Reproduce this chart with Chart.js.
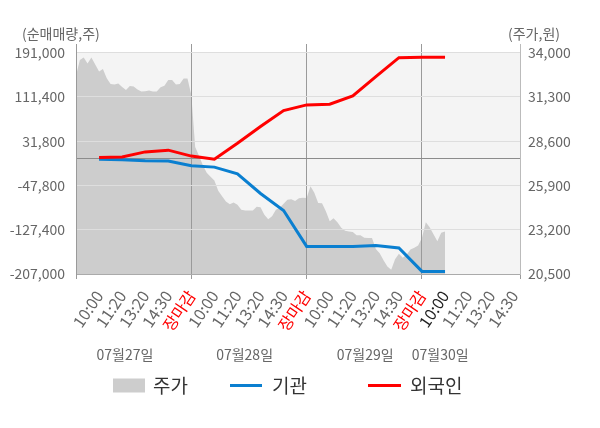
<!DOCTYPE html>
<html><head><meta charset="utf-8">
<script src="https://cdn.jsdelivr.net/npm/chart.js@4.4.0/dist/chart.umd.min.js"></script>
<style>html,body{margin:0;padding:0;background:#fff;}canvas{display:block;}</style>
</head><body>
<canvas id="c" width="600" height="428"></canvas>
<script>
// ---- data ----
const timeLabels = ['10:00','11:20','13:20','14:30','장마감',
                    '10:00','11:20','13:20','14:30','장마감',
                    '10:00','11:20','13:20','14:30','장마감',
                    '10:00','11:20','13:20','14:30'];
const dateLabels = ['07월27일','07월28일','07월29일','07월30일'];
const dateAt = [2.12, 7.31, 12.54, 15.79];          // slot position of each date caption
const leftTicks = [191000, 111400, 31800, -47800, -127400, -207000];
const rightTicks = [34000, 31300, 28600, 25900, 23200, 20500];
const pricePerSlot = 6;                              // price samples per label slot
const price = [
  32600,33550,33710,33340,33700,33280,32850,33010,32440,32090,32060,32120,31910,31720,31970,
  31940,31760,31640,31650,31700,31640,31640,31890,31980,32340,32340,32060,32090,32430,32430,
  31420,28250,27710,27130,26670,26430,26210,25580,25240,24920,24750,24860,24720,24420,24380,
  24380,24380,24600,24570,24110,23840,24020,24420,24540,24780,25030,25060,24950,25120,25150,
  25130,25850,25450,24830,24810,24330,23720,23900,23660,23320,23140,23100,23060,22860,22860,
  22710,22690,22690,22020,21770,21340,20950,20760,21400,21740,21490,21680,22000,22100,22240,
  22710,23660,23350,22930,22500,23020,23100
];
const inst =    [-500,-1700,-3500,-4000,-12500,-14800,-26900,-62200,-92800,-157400,-157400,-157400,-155600,-160300,-202300,-202300];
const foreign = [2500,3500,12600,15700,5000,-500,28100,58100,86800,97100,98300,113200,147900,182000,182700,182700];

const FONT = '"Noto Sans CJK KR", "Noto Sans", sans-serif';
Chart.defaults.font.family = FONT;

const priceData = price.map((v, i) => ({x: i / pricePerSlot, y: v}));
const instData = inst.map((v, i) => ({x: i + 1, y: v}));
const foreignData = foreign.map((v, i) => ({x: i + 1, y: v}));

const plotBg = {
  id: 'plotBg',
  afterLayout(chart) {
    const a = chart.chartArea;
    const top = chart.scales.yR.getPixelForValue(rightTicks[0]);
    chart.canvas.style.background =
      `linear-gradient(#f4f4f4,#f4f4f4) ${a.left}px ${top}px / ${a.right - a.left}px ${a.bottom - top}px no-repeat`;
  }
};

const extras = {
  id: 'extras',
  afterDraw(chart) {
    const ctx = chart.ctx;
    ctx.save();
    ctx.textBaseline = 'middle';
    ctx.textAlign = 'left';
    ctx.fillStyle = '#666';
    ctx.font = '14px ' + FONT;
    ctx.fillText('(순매매량,주)', 22, 34);
    ctx.fillText('(주가,원)', 508, 34);
    // legend
    const ds = chart.data.datasets;
    const y = 386;
    ctx.font = '19px ' + FONT;
    ctx.fillStyle = ds[0].backgroundColor;
    ctx.fillRect(113, 378.5, 32, 14);
    ctx.fillStyle = '#333';
    ctx.fillText(ds[0].label, 153, y);
    ctx.strokeStyle = ds[1].borderColor; ctx.lineWidth = 3;
    ctx.beginPath(); ctx.moveTo(230, y - 0.5); ctx.lineTo(262, y - 0.5); ctx.stroke();
    ctx.fillText(ds[1].label, 272, y);
    ctx.strokeStyle = ds[2].borderColor;
    ctx.beginPath(); ctx.moveTo(368, y - 0.5); ctx.lineTo(401, y - 0.5); ctx.stroke();
    ctx.fillText(ds[2].label, 410, y);
    ctx.restore();
  }
};

new Chart(document.getElementById('c'), {
  type: 'line',
  data: {
    datasets: [
      {label: '주가', data: priceData, xAxisID: 'xg', yAxisID: 'yR', fill: 'start',
       backgroundColor: '#cdcdcd', borderColor: 'rgba(0,0,0,0)', borderWidth: 0,
       pointRadius: 0, tension: 0, order: 3},
      {label: '기관', data: instData, xAxisID: 'xg', yAxisID: 'y', fill: false,
       borderColor: '#0a7fd0', borderWidth: 3, pointRadius: 0, tension: 0, order: 2},
      {label: '외국인', data: foreignData, xAxisID: 'xg', yAxisID: 'y', fill: false,
       borderColor: '#ff0000', borderWidth: 3, pointRadius: 0, tension: 0, order: 1}
    ]
  },
  options: {
    responsive: false,
    animation: false,
    events: [],
    layout: {padding: {top: 44, bottom: 63, left: 0, right: 0}},
    plugins: {
      legend: {display: false},
      tooltip: {enabled: false},
      filler: {drawTime: 'beforeDraw'}
    },
    scales: {
      xg: {
        type: 'linear', position: 'bottom', min: 0, max: 19.25, weight: 0,
        afterBuildTicks: s => { s.ticks = [0, 5, 10, 15, 19.25].map(v => ({value: v})); },
        ticks: {display: false},
        grid: {color: '#9a9a9a', lineWidth: 1, drawTicks: true, tickLength: 5},
        border: {display: true, color: '#aaaaaa'},
        afterFit: s => { s.height = 5; }
      },
      x: {
        type: 'linear', position: 'bottom', min: 0, max: 19.25, weight: 1,
        afterBuildTicks: s => { s.ticks = timeLabels.map((_, i) => ({value: i + 1})); },
        ticks: {
          autoSkip: false, maxRotation: 56, minRotation: 56, padding: 0,
          font: {size: 16},
          color: c => timeLabels[c.index] === '장마감' ? '#ff0000' : (c.index === 15 ? '#222' : '#666'),
          callback: (v, i) => timeLabels[i]
        },
        grid: {display: false},
        border: {display: false},
        afterFit: s => { s.height = 56; }
      },
      xd: {
        type: 'linear', position: 'bottom', min: 0, max: 19.25, weight: 2,
        afterBuildTicks: s => { s.ticks = dateAt.map(v => ({value: v})); },
        ticks: {autoSkip: false, maxRotation: 0, minRotation: 0, padding: 3,
                font: {size: 14}, color: '#666', callback: (v, i) => dateLabels[i]},
        grid: {display: false},
        border: {display: false},
        afterFit: s => { s.height = 30; }
      },
      y: {
        type: 'linear', position: 'left', min: -207000, max: 206600,
        afterBuildTicks: s => { s.ticks = leftTicks.concat([0]).map(v => ({value: v})); },
        ticks: {padding: 11, font: {size: 14}, color: '#666',
                callback: v => v === 0 ? '' : v.toLocaleString('en-US')},
        grid: {color: c => c.tick && c.tick.value === 0 ? '#8c8c8c' : '#dedede', drawTicks: false, lineWidth: 1},
        border: {display: true, color: '#9a9a9a'},
        afterFit: s => { s.width = 76; }
      },
      yR: {
        type: 'linear', position: 'right', min: 20500, max: 34530,
        afterBuildTicks: s => { s.ticks = rightTicks.map(v => ({value: v})); },
        ticks: {padding: 8, font: {size: 14}, color: '#666',
                callback: v => v.toLocaleString('en-US')},
        grid: {display: false, drawTicks: false},
        border: {display: true, color: '#bbbbbb'},
        afterFit: s => { s.width = 80; }
      }
    }
  },
  plugins: [plotBg, extras]
});
</script>
</body></html>
